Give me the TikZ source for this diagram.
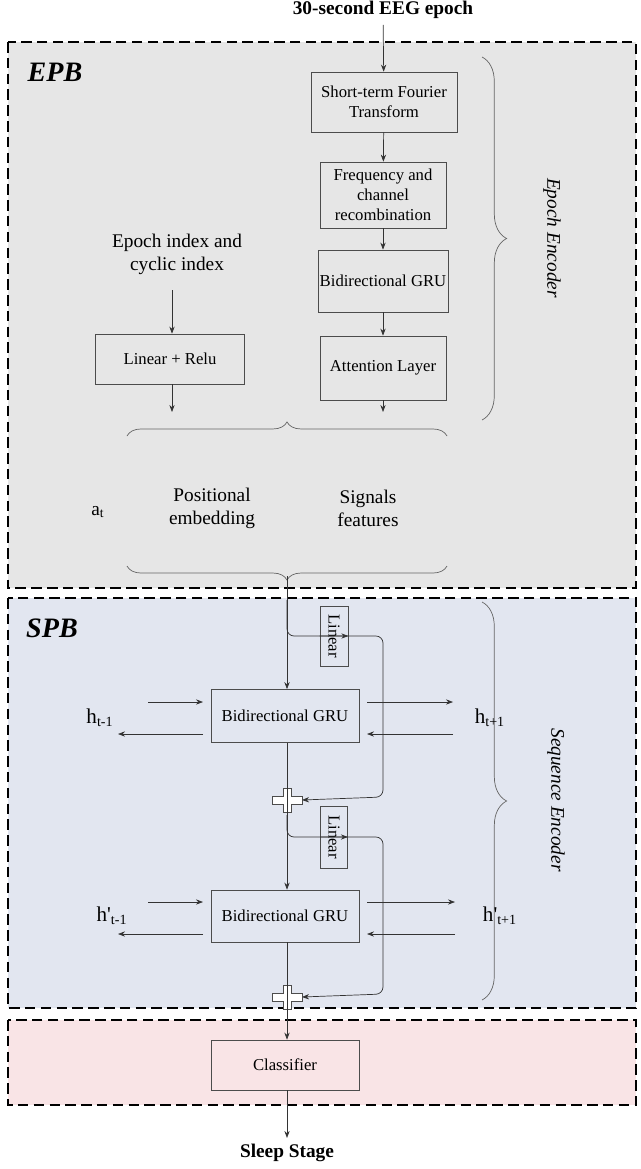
\documentclass[tikz,border=0pt]{standalone}
\usepackage{fontspec}
\setmainfont{Liberation Serif}
\usetikzlibrary{arrows.meta,decorations.pathreplacing,positioning}
\definecolor{epbfill}{RGB}{230,230,230}
\definecolor{spbfill}{RGB}{226,230,240}
\definecolor{clsfill}{RGB}{249,228,230}
\tikzset{
  block/.style={draw=black!70, align=center, font=\fontsize{9.5}{11.5}\selectfont, inner sep=1pt},
  region/.style={draw, dashed, line width=1.1pt, dash pattern=on 6pt off 3pt},
  arr/.style={-{Stealth[length=4pt,width=3pt]}, black!80},
  conn/.style={black!80, rounded corners=4pt},
  brc/.style={decorate, decoration={brace, amplitude=8pt}, black!60},
  lbl/.style={font=\fontsize{11}{13}\selectfont, align=center},
}
\newcommand{\crossat}[1]{%
  \draw[black!70, fill=white] ([shift={(-15,-4)}]#1) -- ++(11,0) -- ++(0,-8) -- ++(8,0) -- ++(0,8)
    -- ++(11,0) -- ++(0,8) -- ++(-11,0) -- ++(0,8) -- ++(-8,0) -- ++(0,-8) -- ++(-11,0) -- cycle;}
\begin{document}
\begin{tikzpicture}[x=0.02cm, y=-0.02cm]
\useasboundingbox (0,0) rectangle (640,1169);
% regions
\draw[region, fill=epbfill] (8,42) rectangle (636,588);
\draw[region, fill=spbfill] (8,598) rectangle (636,1008);
\draw[region, fill=clsfill] (8,1020) rectangle (636,1105);
\node[font=\fontsize{16}{18}\selectfont\bfseries\itshape] at (55,72) {EPB};
\node[font=\fontsize{16}{18}\selectfont\bfseries\itshape] at (52,628) {SPB};

% epoch encoder
\node[font=\fontsize{11}{13}\selectfont\bfseries] (eeg) at (383,10) {30-second EEG epoch};
\node[block, minimum width=146*0.02cm, minimum height=60*0.02cm] (stft) at (384,102) {Short-term Fourier\\Transform};
\node[block, minimum width=126*0.02cm, minimum height=66*0.02cm] (freq) at (383,195) {Frequency and\\channel\\recombination};
\node[block, minimum width=126*0.02cm, minimum height=62*0.02cm] (gru0) at (383,281) {Bidirectional GRU};
\node[block, minimum width=126*0.02cm, minimum height=64*0.02cm] (att) at (383,368) {Attention Layer};
\coordinate (sigout) at (383,412);
\draw[arr] (eeg) -- (stft);
\draw[arr] (stft) -- (freq);
\draw[arr] (freq) -- (gru0);
\draw[arr] (gru0) -- (att);
\draw[arr] (att) -- (sigout);

\node[lbl] (idx) at (177,254) {Epoch index and\\cyclic index};
\node[block, minimum width=149*0.02cm, minimum height=50*0.02cm] (lin0) at (170,359) {Linear + Relu};
\coordinate (posout) at (172,412);
\draw[arr] (172,290) -- (lin0.north -| 172,0);
\draw[arr] (lin0.south -| 172,0) -- (posout);

\draw[brc] (127,436) -- (447,436);
\draw[brc] (447,566) -- (127,566);
\node[lbl] (at) at (98,512) {a\textsubscript{t}};
\node[lbl] (pos) at (212,508) {Positional\\embedding};
\node[lbl] (sig) at (368,508) {Signals\\features};
\coordinate (feat) at (287,576);

\draw[brc, decoration={amplitude=14pt}] (482,57) -- (482,420);
\node[lbl, rotate=-90, font=\fontsize{11}{13}\selectfont\itshape] (encA) at (552,238) {Epoch Encoder};
\draw[brc, decoration={amplitude=14pt}] (482,602) -- (482,1000);
\node[lbl, rotate=-90, font=\fontsize{11}{13}\selectfont\itshape] (encB) at (556,800) {Sequence Encoder};

% sequence encoder
\node[block, minimum width=148*0.02cm, minimum height=53*0.02cm] (gru1) at (285,716) {Bidirectional GRU};
\node[block, minimum width=148*0.02cm, minimum height=52*0.02cm] (gru2) at (285,916) {Bidirectional GRU};
\node[block, rotate=-90, minimum width=60*0.02cm, minimum height=28*0.02cm] (lin1) at (334,636) {Linear};
\node[block, rotate=-90, minimum width=62*0.02cm, minimum height=27*0.02cm] (lin2) at (334,837) {Linear};
\coordinate (p1) at (287,800);
\coordinate (p2) at (287,997);

\draw[arr] (feat) -- (gru1.north -| feat);
\draw[conn, arr] (287,600) |- (lin1.north);
\draw[conn, arr] (lin1.south) -| (383,797) -- ([xshift=15*0.02cm]p1);
\draw[arr] (gru1.south -| p1) -- ([yshift=-12*0.02cm]p1);
\crossat{p1}
\draw[arr] ([yshift=12*0.02cm]p1) -- (gru2.north -| p1);
\draw[conn, arr] (287,815) |- (lin2.north);
\draw[conn, arr] (lin2.south) -| (383,994) -- ([xshift=15*0.02cm]p2);
\draw[arr] (gru2.south -| p2) -- ([yshift=-12*0.02cm]p2);
\crossat{p2}

\node[lbl, font=\fontsize{12}{14}\selectfont] (hm1) at (100,718) {h\textsubscript{t-1}};
\node[lbl, font=\fontsize{12}{14}\selectfont] (hp1) at (490,718) {h\textsubscript{t+1}};
\node[lbl, font=\fontsize{12}{14}\selectfont] (hm2) at (112,916) {h\textquotesingle\textsubscript{t-1}};
\node[lbl, font=\fontsize{12}{14}\selectfont] (hp2) at (500,916) {h\textquotesingle\textsubscript{t+1}};
\draw[arr] (148,702) -- (203,702);
\draw[arr] (203,734) -- (118,734);
\draw[arr] (367,702) -- (453,702);
\draw[arr] (453,734) -- (367,734);
\draw[arr] (148,902) -- (203,902);
\draw[arr] (203,934) -- (118,934);
\draw[arr] (367,902) -- (455,902);
\draw[arr] (455,934) -- (367,934);

% classifier
\node[block, minimum width=148*0.02cm, minimum height=50*0.02cm] (cls) at (285,1065) {Classifier};
\node[font=\fontsize{11}{13}\selectfont\bfseries] (stage) at (287,1153) {Sleep Stage};
\draw[arr] ([yshift=12*0.02cm]p2) -- (cls.north -| p2);
\draw[arr] (cls.south -| p2) -- (stage.north -| p2);
\end{tikzpicture}
\end{document}
